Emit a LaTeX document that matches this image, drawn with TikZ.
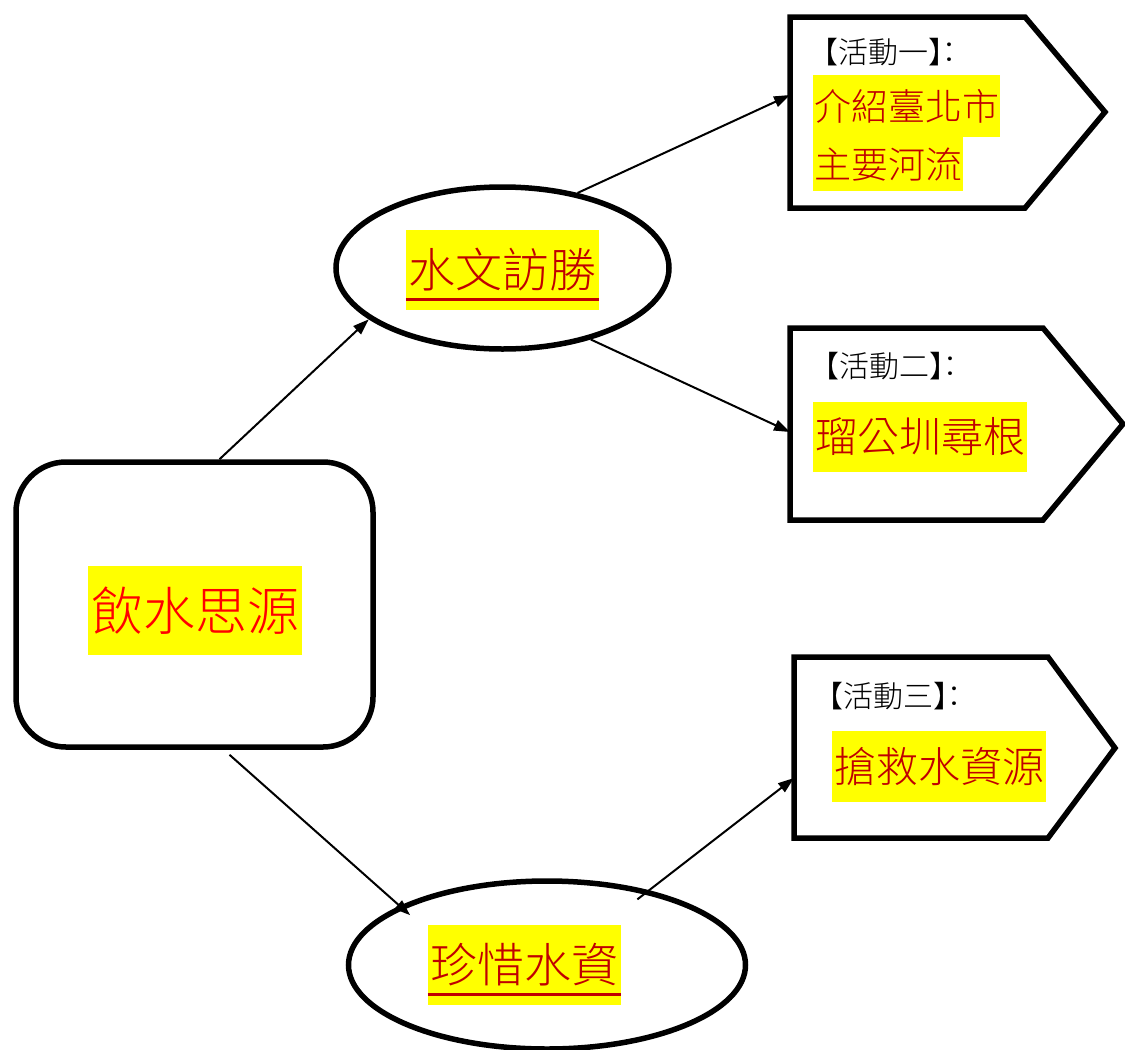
\documentclass[tikz,border=0pt]{standalone}
\usepackage{fontspec}
\newfontfamily\cjk{Noto Sans CJK TC Light}
\usetikzlibrary{shapes.geometric,arrows.meta,calc}
\definecolor{hl}{HTML}{FFFF00}
\definecolor{dred}{HTML}{C00000}
\definecolor{bred}{HTML}{FF0000}
\begin{document}
\begin{tikzpicture}[x=1pt,y=-1pt,
  shp/.style={draw=black,line width=5.5pt,fill=white},
  conn/.style={line width=2pt,-{Triangle[length=16pt,width=11pt]}},
  hlt/.style={fill=hl,inner sep=0pt},
  lbl/.style={font=\cjk\fontsize{30}{33}\selectfont,anchor=west,inner sep=0pt,text=black},
  ul/.style={draw=dred,line width=3pt}]
\useasboundingbox (0,0) rectangle (1125,1050);

% main rounded box
\node[shp,rounded corners=50pt,minimum width=357pt,minimum height=285pt,inner sep=0pt] (r) at (194.5,604.5) {};
\node[hlt,text=bred,minimum width=214pt,minimum height=89pt,font=\cjk\fontsize{52}{56}\selectfont] (tm) at (195,610.5) {飲水思源};

% ellipses
\node[shp,ellipse,minimum width=333pt,minimum height=162pt,inner sep=0pt] (e1) at (502.5,268) {};
\node[hlt,text=dred,minimum width=193pt,minimum height=80pt,font=\cjk\fontsize{47}{50}\selectfont] (t1) at (502.5,270) {水文訪勝};
\draw[ul] ($(t1.south west)+(0,-11)$) -- ($(t1.south east)+(0,-11)$);

\node[shp,ellipse,minimum width=397pt,minimum height=168pt,inner sep=0pt] (e2) at (547,965) {};
\node[hlt,text=dred,minimum width=193pt,minimum height=80pt,font=\cjk\fontsize{47}{50}\selectfont] (t2) at (524.5,965) {珍惜水資};
\draw[ul] ($(t2.south west)+(0,-11)$) -- ($(t2.south east)+(0,-11)$);

% activity boxes
\draw[shp,line join=miter] (790,17) -- (1025,17) -- (1105,112) -- (1025,208) -- (790,208) -- cycle;
\coordinate (b1) at (790,95);
\node[lbl] (l1) at (808,52) {【活動一】\kern-0.8em：};
\node[hlt,text=dred,anchor=north west,minimum width=187pt,minimum height=62pt,font=\cjk\fontsize{37}{40}\selectfont] (a1) at (813,75) {介紹臺北市};
\node[hlt,text=dred,anchor=north west,minimum width=150pt,minimum height=54pt,font=\cjk\fontsize{37}{40}\selectfont] (a1b) at (813,137) {主要河流};

\draw[shp,line join=miter] (790,328) -- (1043,328) -- (1123,424) -- (1043,520) -- (790,520) -- cycle;
\coordinate (b2) at (790,432);
\node[lbl] (l2) at (809,366) {【活動二】\kern-0.8em：};
\node[hlt,text=dred,minimum width=214pt,minimum height=70pt,font=\cjk\fontsize{42}{45}\selectfont] (a2) at (920,437) {瑠公圳尋根};

\draw[shp,line join=miter] (794,657) -- (1048,657) -- (1115,748) -- (1048,838) -- (794,838) -- cycle;
\coordinate (b3) at (794,778);
\node[lbl] (l3) at (813,696) {【活動三】\kern-0.8em：};
\node[hlt,text=dred,minimum width=214pt,minimum height=71pt,font=\cjk\fontsize{42}{45}\selectfont] (a3) at (939,766.5) {搶救水資源};

% connectors
\draw[conn] ([xshift=25pt]r.north) -- (e1.201);
\draw[conn] (e1.45) -- (b1);
\draw[conn] (e1.-39) -- (b2);
\draw[conn] ($(r.south)+(35,5)$) -- ($(e2.center)!0.89!(e2.160)$);
\draw[conn] ($(e2.center)!0.88!(e2.36)$) -- (b3);
\end{tikzpicture}
\end{document}
